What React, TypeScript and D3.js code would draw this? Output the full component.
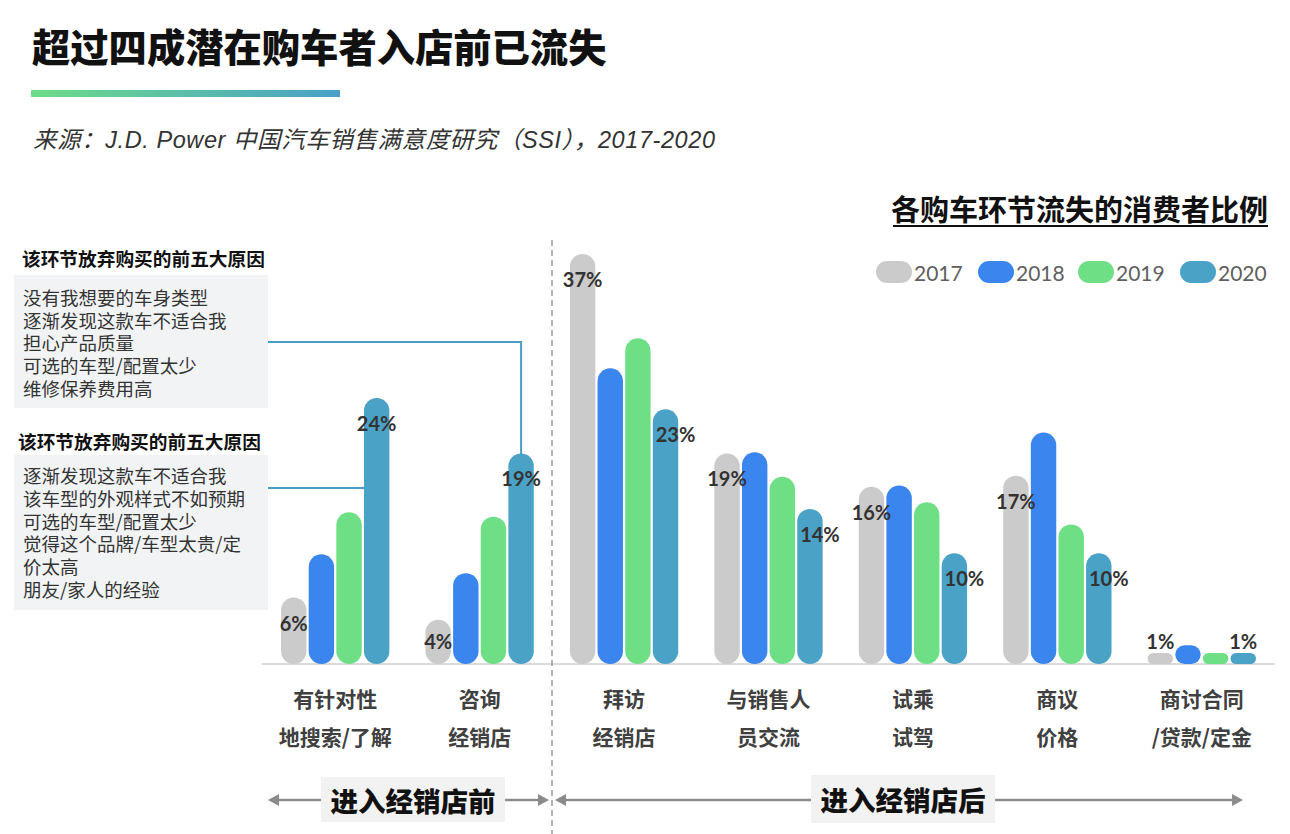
import React from "react";
import * as d3 from "d3";

const categories = ["有针对性|地搜索/了解", "咨询|经销店", "拜访|经销店", "与销售人|员交流", "试乘|试驾", "商议|价格", "商讨合同|/贷款/定金"];
const years = ["2017", "2018", "2019", "2020"];
const v2017 = [6, 4, 37, 19, 16, 17, 1];
const v2018 = [9.9, 8.2, 26.7, 19.1, 16.1, 20.9, 1.7];
const v2019 = [13.7, 13.3, 29.4, 16.9, 14.6, 12.6, 1];
const v2020 = [24, 19, 23, 14, 10, 10, 1];
const labelled2017 = ["6%", "4%", "37%", "19%", "16%", "17%", "1%"];
const labelled2020 = ["24%", "19%", "23%", "14%", "10%", "10%", "1%"];
const reasonsA = ["没有我想要的车身类型", "逐渐发现这款车不适合我", "担心产品质量", "可选的车型/配置太少", "维修保养费用高"];
const reasonsB = ["逐渐发现这款车不适合我", "该车型的外观样式不如预期", "可选的车型/配置太少", "觉得这个品牌/车型太贵/定", "价太高", "朋友/家人的经验"];

const colors = ["#cbcbcb", "#3a85ee", "#6fdf85", "#4ba2c7"];
const CJK = "'Noto Sans CJK SC', 'Noto Sans', sans-serif";
const SUB = "'Liberation Sans', 'Noto Sans CJK SC', sans-serif";
const NUM = "Lato, 'Noto Sans', sans-serif";

export default function App() {
  const W = 1290, H = 834;
  const base = 664;
  const series = [v2017, v2018, v2019, v2020];
  const x0 = d3.scaleBand<string>().domain(categories).range([263, 1274]).paddingInner(0.25).paddingOuter(0.125);
  const x1 = d3.scaleBand<string>().domain(years).range([0, x0.bandwidth()]).paddingInner(0.08);
  const y = d3.scaleLinear().domain([0, 40]).range([base, base - 40 * 11.08]);
  const bw = x1.bandwidth();

  const bars: JSX.Element[] = [];
  const labels: JSX.Element[] = [];
  categories.forEach((c, ci) => {
    years.forEach((yr, si) => {
      const v = series[si][ci];
      const bx = (x0(c) as number) + (x1(yr) as number);
      const top = y(v);
      const h = base - top;
      const r = Math.min(bw / 2, h / 2);
      bars.push(<rect key={c + yr} x={bx} y={top} width={bw} height={h} rx={r} ry={r} fill={colors[si]} />);
      if (si === 0 || si === 3) {
        const txt = si === 0 ? labelled2017[ci] : labelled2020[ci];
        const dx = si === 3 && ci >= 2 && v >= 5 ? 10 : 0;
        const ly = Math.min(top + 25, base - 23);
        labels.push(
          <text key={"l" + c + yr} x={bx + bw / 2 + dx} y={ly} textAnchor="middle" dominantBaseline="central"
            fontFamily={NUM} fontWeight={700} fontSize={20} fill="#333">{txt}</text>
        );
      }
    });
  });

  const teal2020G2 = (x0(categories[1]) as number) + (x1("2020") as number) + bw / 2;
  const teal2020G1Left = (x0(categories[0]) as number) + (x1("2020") as number);

  const arrowColor = "#8c8c8c";
  const arrowHead = (x: number, yy: number, dir: number, k: string) => (
    <path key={k} d={`M${x},${yy} L${x - dir * 11},${yy - 6} L${x - dir * 11},${yy + 6} Z`} fill={arrowColor} />
  );

  return (
    <svg width={W} height={H} style={{ position: "absolute", left: 0, top: 0, background: "#fff" }}>
      <defs>
        <linearGradient id="tg" x1="0" x2="1" y1="0" y2="0">
          <stop offset="0%" stopColor="#6ddc88" />
          <stop offset="100%" stopColor="#4a9fc8" />
        </linearGradient>
      </defs>
      <rect x={0} y={0} width={W} height={H} fill="#fff" />
      {/* title */}
      <text x={32} y={62} fontFamily={CJK} fontWeight={900} fontSize={38.3} fill="#111">超过四成潜在购车者入店前已流失</text>
      <rect x={31} y={90} width={309} height={7} fill="url(#tg)" />
      <text x={33} y={148} fontFamily={SUB} fontStyle="italic" fontSize={23.5} fill="#333" textLength={682} lengthAdjust="spacing">来源：J.D. Power 中国汽车销售满意度研究（SSI），2017-2020</text>

      {/* chart title */}
      <text x={1268} y={221} textAnchor="end" fontFamily={CJK} fontWeight={700} fontSize={29} fill="#111">各购车环节流失的消费者比例</text>
      <line x1={893} x2={1268} y1={226} y2={226} stroke="#111" strokeWidth={2} />

      {/* legend */}
      {years.map((yr, i) => {
        const lx = [876, 978, 1078, 1180][i];
        return (
          <g key={yr}>
            <rect x={lx} y={261} width={36} height={22} rx={11} fill={colors[i]} />
            <text x={lx + 38} y={272} dominantBaseline="central" fontFamily={NUM} fontSize={21} fill="#5f5f5f">{yr}</text>
          </g>
        );
      })}

      {/* left panel */}
      <text x={22} y={257} dominantBaseline="central" fontFamily={CJK} fontWeight={700} fontSize={18.7} fill="#111">该环节放弃购买的前五大原因</text>
      <rect x={14} y={275} width={254} height={133} fill="#f2f3f5" />
      {reasonsA.map((t, i) => (
        <text key={"a" + i} x={23} y={297 + i * 22.7} dominantBaseline="central" fontFamily={CJK} fontSize={18.5} fill="#333">{t}</text>
      ))}
      <text x={18} y={440} dominantBaseline="central" fontFamily={CJK} fontWeight={700} fontSize={18.7} fill="#111">该环节放弃购买的前五大原因</text>
      <rect x={14} y={455} width={254} height={155} fill="#f2f3f5" />
      {reasonsB.map((t, i) => (
        <text key={"b" + i} x={23} y={475 + i * 22.8} dominantBaseline="central" fontFamily={CJK} fontSize={18.5} fill="#333">{t}</text>
      ))}

      {/* connectors */}
      <polyline points={`268,342 ${teal2020G2},342 ${teal2020G2},${y(v2020[1]) + 2}`} fill="none" stroke="#4a9fc0" strokeWidth={2} />
      <line x1={268} x2={teal2020G1Left} y1={488} y2={488} stroke="#4a9fc0" strokeWidth={2} />

      {/* baseline & divider */}
      <line x1={262} x2={1275} y1={base} y2={base} stroke="#cfcfcf" strokeWidth={1.5} />
      <line x1={552} x2={552} y1={240} y2={834} stroke="#9a9a9a" strokeWidth={1.5} strokeDasharray="6,4" />

      {bars}
      {labels}

      {/* category labels */}
      {categories.map((c) => {
        const cx = (x0(c) as number) + x0.bandwidth() / 2;
        const [l1, l2] = c.split("|");
        return (
          <g key={"c" + c}>
            <text x={cx} y={698} textAnchor="middle" dominantBaseline="central" fontFamily={CJK} fontWeight={700} fontSize={21} fill="#404040">{l1}</text>
            <text x={cx} y={736} textAnchor="middle" dominantBaseline="central" fontFamily={CJK} fontWeight={700} fontSize={21} fill="#404040">{l2}</text>
          </g>
        );
      })}

      {/* bottom arrows */}
      <line x1={270} x2={546} y1={800} y2={800} stroke={arrowColor} strokeWidth={2.5} />
      {arrowHead(268, 800, -1, "a1")}
      {arrowHead(549, 800, 1, "a2")}
      <line x1={558} x2={1240} y1={800} y2={800} stroke={arrowColor} strokeWidth={2.5} />
      {arrowHead(555, 800, -1, "a3")}
      {arrowHead(1243, 800, 1, "a4")}
      <rect x={321} y={777} width={184} height={45} fill="#f2f2f2" />
      <text x={413} y={800} textAnchor="middle" dominantBaseline="central" fontFamily={CJK} fontWeight={900} fontSize={27.5} fill="#111">进入经销店前</text>
      <rect x={811} y={775} width={184} height={48} fill="#f2f2f2" />
      <text x={903} y={799} textAnchor="middle" dominantBaseline="central" fontFamily={CJK} fontWeight={900} fontSize={27.5} fill="#111">进入经销店后</text>
    </svg>
  );
}
